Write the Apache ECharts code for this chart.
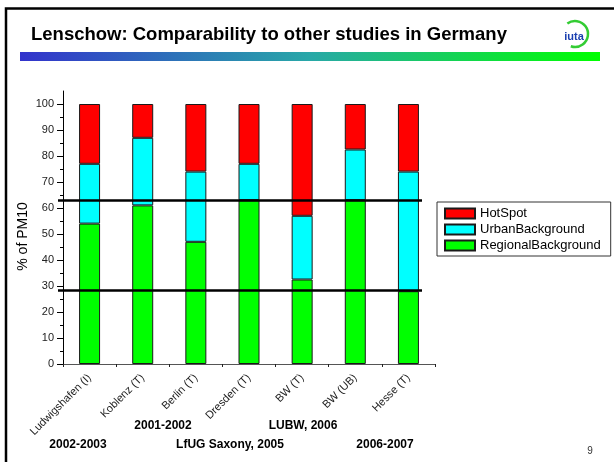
<!DOCTYPE html>
<html>
<head>
<meta charset="utf-8">
<script src="https://cdn.jsdelivr.net/npm/echarts@6/dist/echarts.min.js"></script>
<style>
  html, body { margin: 0; padding: 0; background: #fff; }
  #chart { width: 614px; height: 462px; }
</style>
</head>
<body>
<div id="chart"></div>
<script>
// Source-apportionment shares of PM10 (%) per study site
const categories = ['Ludwigshafen (I)', 'Koblenz (T)', 'Berlin (T)', 'Dresden (T)', 'BW (T)', 'BW (UB)', 'Hesse (T)'];
const regionalBackground = [54, 61, 47, 63, 32.5, 63, 28];
const urbanBackground = [23, 26, 27, 14, 24.5, 19.5, 46];
const hotSpot = [23, 13, 26, 23, 43, 17.5, 26];

// Horizontal reference levels (% of PM10)
const referenceLevels = [63, 28.3];

// Y axis ticks
const yMajorTicks = [0, 10, 20, 30, 40, 50, 60, 70, 80, 90, 100];
const yMinorTicks = [5, 15, 25, 35, 45, 55, 65, 75, 85, 95];

// Study / period captions under the category labels
const studyLabels = ['2002-2003', '2001-2002', 'LfUG Saxony, 2005', 'LUBW, 2006', '2006-2007'];
const slideTitle = 'Lenschow: Comparability to other studies in Germany';
const pageNumber = '9';

const FONT = 'Arial, "Liberation Sans", sans-serif';
const BAR_BORDER = '#1a1a1a';

const chart = echarts.init(document.getElementById('chart'), null, { renderer: 'canvas' });

const captionPos = [[78, 445], [163, 426], [230, 445], [303, 426], [385, 445]];

function barSeries(name, data, color, extra) {
  return Object.assign({
    name: name,
    type: 'bar',
    stack: 'pm10',
    data: data,
    barWidth: 21,
    itemStyle: { color: color, borderColor: BAR_BORDER, borderWidth: 1 },
    emphasis: { disabled: true },
    animation: false
  }, extra || {});
}

const option = {
  animation: false,
  textStyle: { fontFamily: FONT },
  grid: { left: 63, top: 91, width: 372, height: 273, containLabel: false },
  legend: {
    orient: 'vertical',
    left: 437,
    top: 202,
    data: ['HotSpot', 'UrbanBackground', 'RegionalBackground'],
    icon: 'rect',
    itemWidth: 30,
    itemHeight: 10,
    itemGap: 3,
    padding: [5, 10, 4, 7],
    borderColor: '#333',
    borderWidth: 1,
    backgroundColor: '#fff',
    selectedMode: false,
    textStyle: { fontSize: 13, color: '#000', fontFamily: FONT }
  },
  xAxis: {
    type: 'category',
    data: categories,
    boundaryGap: true,
    axisLine: { show: true, lineStyle: { color: '#555', width: 1 } },
    axisTick: { show: true, length: 3, lineStyle: { color: '#222' } },
    axisLabel: { interval: 0, rotate: 45, fontSize: 11, color: '#222', margin: 12, fontFamily: FONT },
    splitLine: { show: false }
  },
  yAxis: [
    {
      type: 'value',
      min: 0,
      max: 105,
      interval: 10,
      position: 'left',
      name: '% of PM10',
      nameLocation: 'middle',
      nameGap: 33,
      nameMoveOverlap: false,
      nameTextStyle: { fontSize: 14, color: '#000', fontFamily: FONT, padding: [0, 18, 0, 0] },
      axisLine: { show: true, lineStyle: { color: '#000', width: 1 } },
      axisTick: { show: true, length: 6, customValues: yMajorTicks, lineStyle: { color: '#000' } },
      axisLabel: { customValues: yMajorTicks, fontSize: 11, color: '#222', margin: 9, fontFamily: FONT },
      splitLine: { show: false }
    },
    {
      type: 'value',
      min: 0,
      max: 105,
      interval: 10,
      position: 'left',
      offset: 0,
      axisLine: { show: false },
      axisTick: { show: true, length: 3, customValues: yMinorTicks, lineStyle: { color: '#000' } },
      axisLabel: { show: false },
      splitLine: { show: false }
    }
  ],
  series: [
    barSeries('RegionalBackground', regionalBackground, '#00ff00', {
      markLine: {
        silent: true,
        symbol: ['none', 'none'],
        label: { show: false },
        lineStyle: { color: '#000', width: 2.5, type: 'solid' },
        emphasis: { disabled: true },
        animation: false,
        data: referenceLevels.map(v => [{ x: 58, yAxis: v }, { x: 422, yAxis: v }])
      }
    }),
    barSeries('UrbanBackground', urbanBackground, '#00ffff'),
    barSeries('HotSpot', hotSpot, '#ff0000')
  ],
  graphic: [
    // slide frame
    {
      type: 'polyline',
      shape: { points: [[6, 462], [6, 8.5], [614, 8.5]] },
      style: { stroke: '#000', lineWidth: 2.5, fill: null },
      silent: true
    },
    // slide title
    {
      type: 'text',
      x: 31, y: 35,
      style: { text: slideTitle, font: 'bold 18.5px ' + FONT, fill: '#000', verticalAlign: 'middle', align: 'left' },
      silent: true
    },
    // colour band under the title
    {
      type: 'rect',
      shape: { x: 20, y: 52, width: 580, height: 9 },
      style: {
        fill: new echarts.graphic.LinearGradient(0, 0, 1, 0, [
          { offset: 0, color: '#3333cc' },
          { offset: 0.5, color: '#28a8a8' },
          { offset: 1, color: '#00ff00' }
        ])
      },
      silent: true
    },
    // institute logo
    {
      type: 'arc',
      shape: { cx: 575, cy: 34, r: 13, startAngle: -2.2, endAngle: 1.9, clockwise: true },
      style: { stroke: '#33cc33', lineWidth: 2.5, fill: null },
      silent: true
    },
    {
      type: 'text',
      x: 574, y: 37,
      style: { text: 'iuta', font: 'bold 11px ' + FONT, fill: '#1a3fb0', align: 'center', verticalAlign: 'middle' },
      silent: true
    },
    // study captions
    ...studyLabels.map((t, i) => ({
      type: 'text',
      x: captionPos[i][0], y: captionPos[i][1],
      style: { text: t, font: 'bold 12px ' + FONT, fill: '#000', align: 'center', verticalAlign: 'middle' },
      silent: true
    })),
    // page number
    {
      type: 'text',
      x: 590, y: 451,
      style: { text: pageNumber, font: '10px ' + FONT, fill: '#333', align: 'center', verticalAlign: 'middle' },
      silent: true
    }
  ]
};

chart.setOption(option);
</script>
</body>
</html>
